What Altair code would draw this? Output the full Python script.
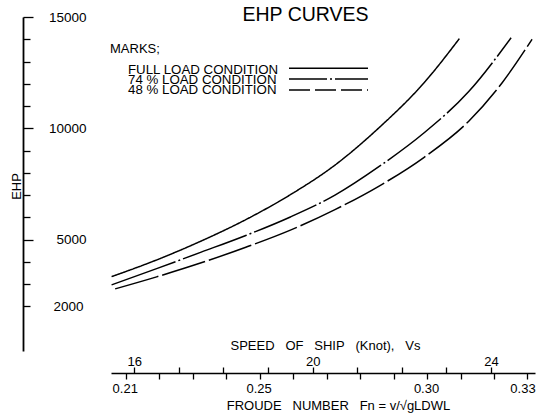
import altair as alt
import pandas as pd

# ---------------- data ----------------
cond_names = ["FULL LOAD CONDITION", "74 % LOAD CONDITION", "48 % LOAD CONDITION"]

full_speed = [15.49, 16.5, 17.5, 18.5, 19.5, 20.5, 21.5, 22.5, 23.29]
full_ehp = [3340, 4090, 4940, 5900, 7020, 8350, 10050, 12050, 14030]

load74_speed = [15.49, 16.5, 17.5, 18.5, 19.5, 20.5, 21.5, 22.5, 23.5, 24.45]
load74_ehp = [2970, 3700, 4440, 5190, 6020, 7000, 8300, 9800, 11650, 14070]

load48_speed = [15.57, 16.5, 17.5, 18.5, 19.5, 20.5, 21.5, 22.5, 23.5, 24.25, 24.92]
load48_ehp = [2790, 3330, 3960, 4660, 5430, 6350, 7420, 8700, 10320, 12050, 14000]

speed_ticks = [16, 17, 18, 19, 20, 21, 22, 23, 24]
speed_labels = [16, 20, 24]
froude_ticks = [0.21, 0.22, 0.23, 0.24, 0.25, 0.26, 0.27, 0.28, 0.29, 0.30, 0.31, 0.32, 0.33]
froude_labels = ["0.21", "0.25", "0.30", "0.33"]
ehp_ticks = [2000, 3000, 4000, 5000, 6000, 7000, 8000, 9000, 10000,
             11000, 12000, 13000, 14000, 15000]
ehp_labels = [2000, 5000, 10000, 15000]
ehp_major = [5000, 10000, 15000]

rows = []
for name, sp, eh in zip(cond_names,
                        [full_speed, load74_speed, load48_speed],
                        [full_ehp, load74_ehp, load48_ehp]):
    for s, e in zip(sp, eh):
        rows.append({"cond": name, "speed": s, "ehp": e})
df = pd.DataFrame(rows)
froude_df = pd.DataFrame({"fn": froude_ticks})

# ---------------- layout ----------------
W, H = 424, 334
FONT = "Liberation Sans"
NB = "\u00a0"
speed_domain = [15.477, 24.986]
froude_domain = [0.2056, 0.33225]

speed_label_expr = "indexof([%s], datum.value) >= 0 ? datum.label : ''" % ",".join(str(v) for v in speed_labels)
froude_label_expr = "indexof([%s], datum.label) >= 0 ? datum.label : ''" % ",".join("'%s'" % v for v in froude_labels)
ehp_label_expr = "indexof([%s], datum.value) >= 0 ? datum.label : ''" % ",".join(str(v) for v in ehp_labels)
ehp_major_test = " || ".join("datum.value == %d" % v for v in ehp_major)

speed_title = (NB * 3).join(["SPEED", "OF", "SHIP", "(Knot),", "Vs"])
froude_title = (NB * 3).join(["FROUDE", "NUMBER", "Fn" + NB + "=" + NB + "v/√gLDWL"])

curves = alt.Chart(df).mark_line(interpolate="monotone", color="black", strokeWidth=1.5).encode(
    x=alt.X("speed:Q",
            scale=alt.Scale(domain=speed_domain, nice=False, zero=False),
            axis=alt.Axis(orient="top", offset=-(H + 22), values=speed_ticks, tickSize=6,
                          tickWidth=1.3, domain=False, grid=False, format="d",
                          labelExpr=speed_label_expr, labelPadding=-1, labelFlush=False,
                          labelOverlap=False, labelFontSize=13,
                          title=speed_title, titleX=214, titleY=-28,
                          titleAlign="center", titleBaseline="middle", titleFontSize=13)),
    y=alt.Y("ehp:Q",
            scale=alt.Scale(domain=[0, 15000], nice=False, zero=True),
            axis=alt.Axis(orient="right", offset=-(W + 88), values=ehp_ticks,
                          tickSize={"condition": {"test": ehp_major_test, "value": 10}, "value": 7},
                          tickWidth=1.3, domainWidth=1.8, grid=False, format="d",
                          labelExpr=ehp_label_expr, labelAlign="right", labelBaseline="middle",
                          labelPadding=53, labelFlush=False, labelOverlap=False, labelFontSize=13.5,
                          title="EHP", titleAngle=270, titleX=-6.5, titleY=169,
                          titleAlign="center", titleBaseline="middle", titleFontSize=13)),
    strokeDash=alt.StrokeDash("cond:N",
                              scale=alt.Scale(domain=cond_names,
                                              range=[[1, 0], [68, 3, 2, 3], [45, 4]]),
                              legend=None),
)

froude_axis = alt.Chart(froude_df).mark_point(opacity=0).encode(
    x=alt.X("fn:Q",
            scale=alt.Scale(domain=froude_domain, nice=False, zero=False),
            axis=alt.Axis(orient="bottom", offset=22, values=froude_ticks, tickSize=6,
                          tickWidth=1.3, domainWidth=1.6, grid=False, format=".2f",
                          labelExpr=froude_label_expr, labelPadding=3, labelFlush=False,
                          labelOverlap=False, labelFontSize=13,
                          labelOffset={"condition": {"test": "datum.value > 0.325", "value": -5},
                                       "value": -1},
                          title=froude_title, titleX=227, titleY=32,
                          titleAlign="center", titleBaseline="middle", titleFontSize=13)),
)


def text_layer(txt, x, y, size, align="left"):
    return alt.Chart(pd.DataFrame({"t": [txt]})).mark_text(
        font=FONT, fontSize=size, color="black", align=align, baseline="middle"
    ).encode(text="t:N", x=alt.value(x), y=alt.value(y))


title = text_layer("EHP CURVES", 194.5, -2, 19.5, "center")
marks = text_layer("MARKS;", -1, 32, 13)
lab1 = text_layer(cond_names[0], 17, 52.5, 13.3)
lab2 = text_layer(cond_names[1], 17, 62.5, 13.3)
lab3 = text_layer(cond_names[2], 17, 72.5, 13.3)


def sample(name, y, dash):
    props = dict(color="black", strokeWidth=1.5)
    if dash:
        props["strokeDash"] = dash
    return alt.Chart(pd.DataFrame({"cond": [name]})).mark_rule(**props).encode(
        x=alt.value(178), x2=alt.value(257), y=alt.value(y))


s1 = sample(cond_names[0], 51.3, None)
s2 = sample(cond_names[1], 62, [38, 3, 2, 3])
s3 = sample(cond_names[2], 73, [21, 5])

chart = alt.layer(
    curves, froude_axis, title, marks, lab1, lab2, lab3, s1, s2, s3
).resolve_scale(x="independent").properties(
    width=W, height=H,
    autosize=alt.AutoSizeParams(type="none"),
    padding={"left": 111, "top": 17, "right": 1, "bottom": 63},
    background="white",
).configure_view(stroke=None).configure_axis(
    domainColor="black", tickColor="black", labelColor="black", titleColor="black",
    labelFont=FONT, titleFont=FONT, titleFontWeight="normal",
)

chart.save("out.html", embed_options={"renderer": "svg", "actions": False})
